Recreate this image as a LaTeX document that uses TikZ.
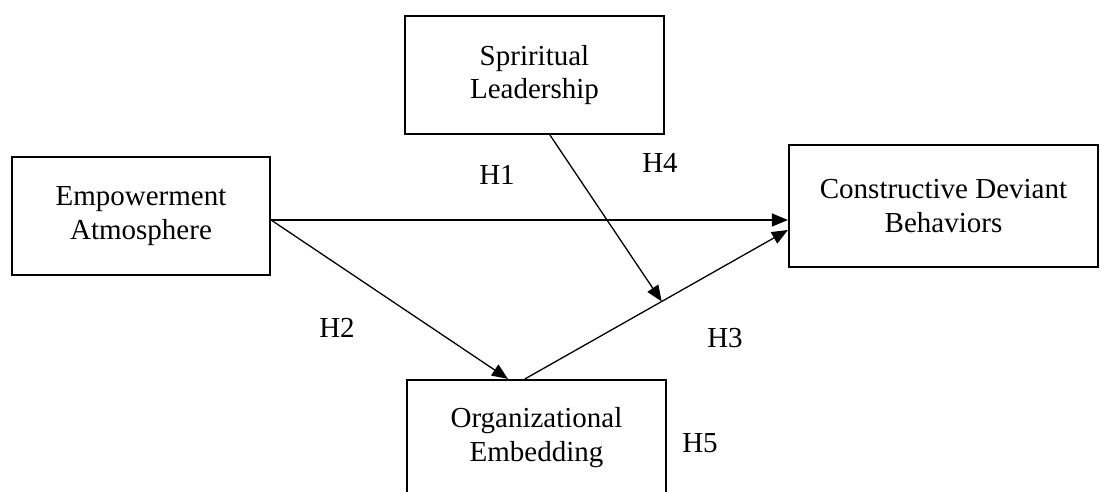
\documentclass[tikz,border=0pt]{standalone}
\usepackage{fontspec}
\setmainfont{Liberation Serif}
\usetikzlibrary{arrows.meta}
\begin{document}
\begin{tikzpicture}[x=1pt,y=-1pt,
  box/.style={draw, line width=2.2pt, inner sep=0pt, align=center, font=\fontsize{29}{33.5}\selectfont},
  lbl/.style={inner sep=0pt, font=\fontsize{29}{33.5}\selectfont},
  conn/.style={line width=1.3pt, -{Triangle[length=16pt,width=13pt]}}]
\useasboundingbox (0,0) rectangle (1100,491);
\clip (0,0) rectangle (1100,491);
\node[box, minimum width=259pt, minimum height=118pt] (sp) at (534.5,75) {Spriritual\\Leadership};
\node[box, minimum width=258pt, minimum height=118pt] (em) at (141,216) {Empowerment\\Atmosphere};
\node[box, minimum width=309pt, minimum height=122pt] (cd) at (943.5,206) {Constructive Deviant\\Behaviors};
\node[box, minimum width=259pt, minimum height=115pt] (org) at (536.5,437.5) {Organizational\\Embedding};
\draw[conn] ([yshift=-4pt]em.east) -- ([yshift=-14pt]cd.west);
\draw[conn] ([yshift=-4pt]em.east) -- ([xshift=-28.5pt]org.north);
\draw[conn] ([xshift=-11.5pt]org.north) -- ([yshift=-24pt]cd.west) coordinate[pos=0.52] (m);
\draw[conn] ([xshift=15.5pt]sp.south) -- (m);
\node[lbl] (h1) at (497,175) {H1};
\node[lbl] (h4) at (660,163) {H4};
\node[lbl] (h2) at (337,328) {H2};
\node[lbl] (h3) at (725,338) {H3};
\node[lbl] (h5) at (700,443) {H5};
\end{tikzpicture}
\end{document}
